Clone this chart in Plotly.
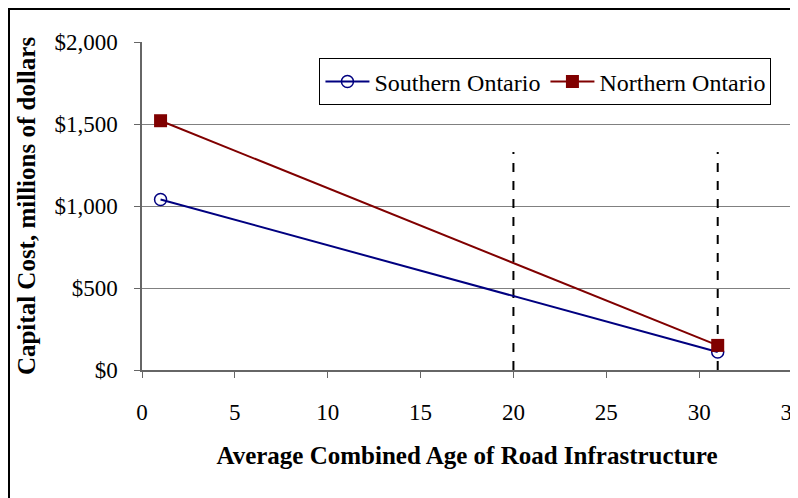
import plotly.graph_objects as go

# chart values
age = [1, 31]
southern = [1040, 110]
northern = [1520, 150]

marker_ages = [20, 31]
marker_top = 1330

y_ticks = [0, 500, 1000, 1500, 2000]
y_labels = ["$0", "$500", "$1,000", "$1,500", "$2,000"]
x_ticks = [0, 5, 10, 15, 20, 25, 30, 35]

font = "Liberation Serif, Times New Roman, serif"

fig = go.Figure()

# dashed reference lines
for a in marker_ages:
    fig.add_trace(go.Scatter(
        x=[a, a], y=[0, marker_top], mode="lines",
        line=dict(color="black", width=2, dash="dash"),
        showlegend=False, hoverinfo="skip",
    ))

fig.add_trace(go.Scatter(
    x=age, y=southern, mode="lines+markers", name="Southern Ontario",
    line=dict(color="#000080", width=2),
    marker=dict(symbol="circle-open", size=12, color="#000080", line=dict(width=1.5)),
))
fig.add_trace(go.Scatter(
    x=age, y=northern, mode="lines+markers", name="Northern Ontario",
    line=dict(color="#800000", width=2),
    marker=dict(symbol="square", size=13, color="#800000"),
))

# page body has an 8px margin; keep the figure inside the window
W, H = 790, 490
L, R, T, B = 134, 6, 34, 128
pw, ph = W - L - R, H - T - B

fig.update_layout(
    width=W, height=H,
    margin=dict(l=L, r=R, t=T, b=B),
    paper_bgcolor="white", plot_bgcolor="white",
    font=dict(family=font, size=23, color="black"),
    legend=dict(
        x=0.273, y=0.95, xanchor="left", yanchor="top",
        orientation="h", bgcolor="white",
        bordercolor="black", borderwidth=1,
        font=dict(size=24), itemwidth=44,
    ),
    shapes=[dict(
        type="rect", xref="paper", yref="paper",
        x0=-(L - 1) / pw, x1=1.2, y0=-0.6, y1=1 + (T - 1) / ph,
        line=dict(color="black", width=2), layer="below",
    )],
)

fig.update_xaxes(
    range=[0, 35], tickvals=x_ticks,
    showgrid=False, zeroline=False, automargin=False,
    showline=True, linecolor="#666666", linewidth=1.5,
    ticks="outside", ticklen=6, tickcolor="#666666",
    ticklabelstandoff=15, ticklabeloverflow="allow",
    tickfont=dict(size=23),
    title=dict(text="<b>Average Combined Age of Road Infrastructure</b>",
               font=dict(size=25), standoff=22),
)
fig.update_yaxes(
    range=[0, 2000], tickvals=y_ticks, ticktext=y_labels,
    showgrid=True, gridcolor="#808080", gridwidth=1,
    zeroline=False, automargin=False,
    showline=True, linecolor="#666666", linewidth=1.5, mirror=True,
    ticks="outside", ticklen=6, tickcolor="#666666",
    ticklabelstandoff=12,
    tickfont=dict(size=23),
    title=dict(text="<b>Capital Cost, millions of dollars</b>",
               font=dict(size=25), standoff=12),
)

fig.write_html("out.html")
